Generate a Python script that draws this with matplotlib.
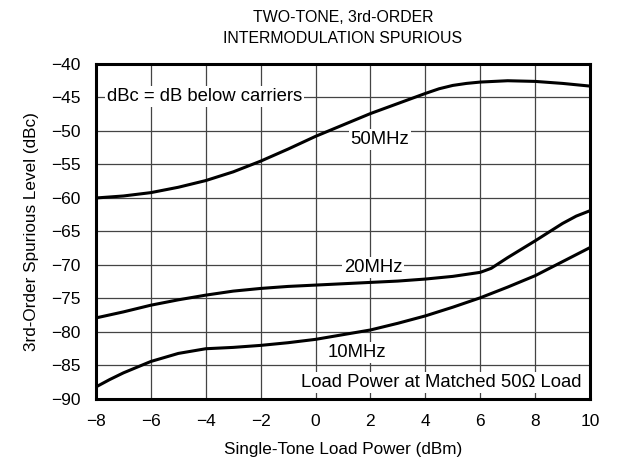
import matplotlib.pyplot as plt

plt.rcParams['font.family'] = ['Liberation Sans', 'DejaVu Sans']

# load power (dBm)
x_50 = [-8, -7, -6, -5, -4, -3, -2, -1, 0, 1, 2, 3, 4, 4.5, 5, 5.5, 6, 7, 8, 9, 10]
y_50 = [-60.0, -59.7, -59.2, -58.4, -57.4, -56.1, -54.5, -52.7, -50.8, -49.1,
        -47.4, -45.9, -44.4, -43.7, -43.2, -42.9, -42.7, -42.5, -42.6, -42.9, -43.3]

x_20 = [-8, -7, -6, -5, -4, -3, -2, -1, 0, 1, 2, 3, 4, 5, 6, 6.4, 7, 8, 8.5, 9, 9.5, 10]
y_20 = [-77.9, -77.0, -76.0, -75.2, -74.5, -73.9, -73.5, -73.2, -73.0, -72.8,
        -72.6, -72.4, -72.1, -71.7, -71.1, -70.5, -68.9, -66.4, -65.1, -63.8, -62.7, -61.9]

x_10 = [-8, -7.5, -7, -6, -5, -4, -3, -2, -1, 0, 1, 2, 3, 4, 5, 6, 7, 8, 9, 10]
y_10 = [-88.2, -87.1, -86.1, -84.4, -83.2, -82.5, -82.3, -82.0, -81.6, -81.1, -80.4,
        -79.7, -78.7, -77.6, -76.3, -74.9, -73.3, -71.6, -69.5, -67.4]

fig = plt.figure(figsize=(6.18, 4.66), dpi=100)
ax = fig.add_axes([0.1553, 0.1438, 0.7994, 0.7189])

for xs, ys in [(x_50, y_50), (x_20, y_20), (x_10, y_10)]:
    ax.plot(xs, ys, color='black', linewidth=2.2, zorder=3, solid_joinstyle='round')

ax.set_xlim(-8, 10)
ax.set_ylim(-90, -40)
ax.set_xticks(range(-8, 11, 2))
ax.set_yticks(range(-90, -39, 5))
ax.grid(True, color='#444444', linewidth=0.9, zorder=0)
ax.set_axisbelow(True)
ax.tick_params(length=0, labelsize=12.5, pad=11)
for sp in ax.spines.values():
    sp.set_linewidth(2.2)

box = dict(facecolor='white', edgecolor='none', pad=1.5)
fs = 13.3
ax.text(-7.6, -44.9, 'dBc = dB below carriers', fontsize=fs, ha='left', va='center', bbox=box, zorder=2)
ax.text(2.35, -51.3, '50MHz', fontsize=fs, ha='center', va='center', bbox=box, zorder=2)
ax.text(2.1, -70.4, '20MHz', fontsize=fs, ha='center', va='center', bbox=box, zorder=2)
ax.text(1.5, -83.1, '10MHz', fontsize=fs, ha='center', va='center', bbox=box, zorder=2)
ax.text(9.7, -87.6, 'Load Power at Matched 50Ω Load', fontsize=fs, ha='right', va='center', bbox=box, zorder=2)

ax.set_xlabel('Single-Tone Load Power (dBm)', fontsize=12.3, labelpad=9)
ax.set_ylabel('3rd-Order Spurious Level (dBc)', fontsize=12.3, labelpad=9)
ax.set_title('TWO-TONE, 3rd-ORDER\nINTERMODULATION SPURIOUS', fontsize=11.4, pad=15, linespacing=1.55)

fig.savefig('out.png', dpi=100)
